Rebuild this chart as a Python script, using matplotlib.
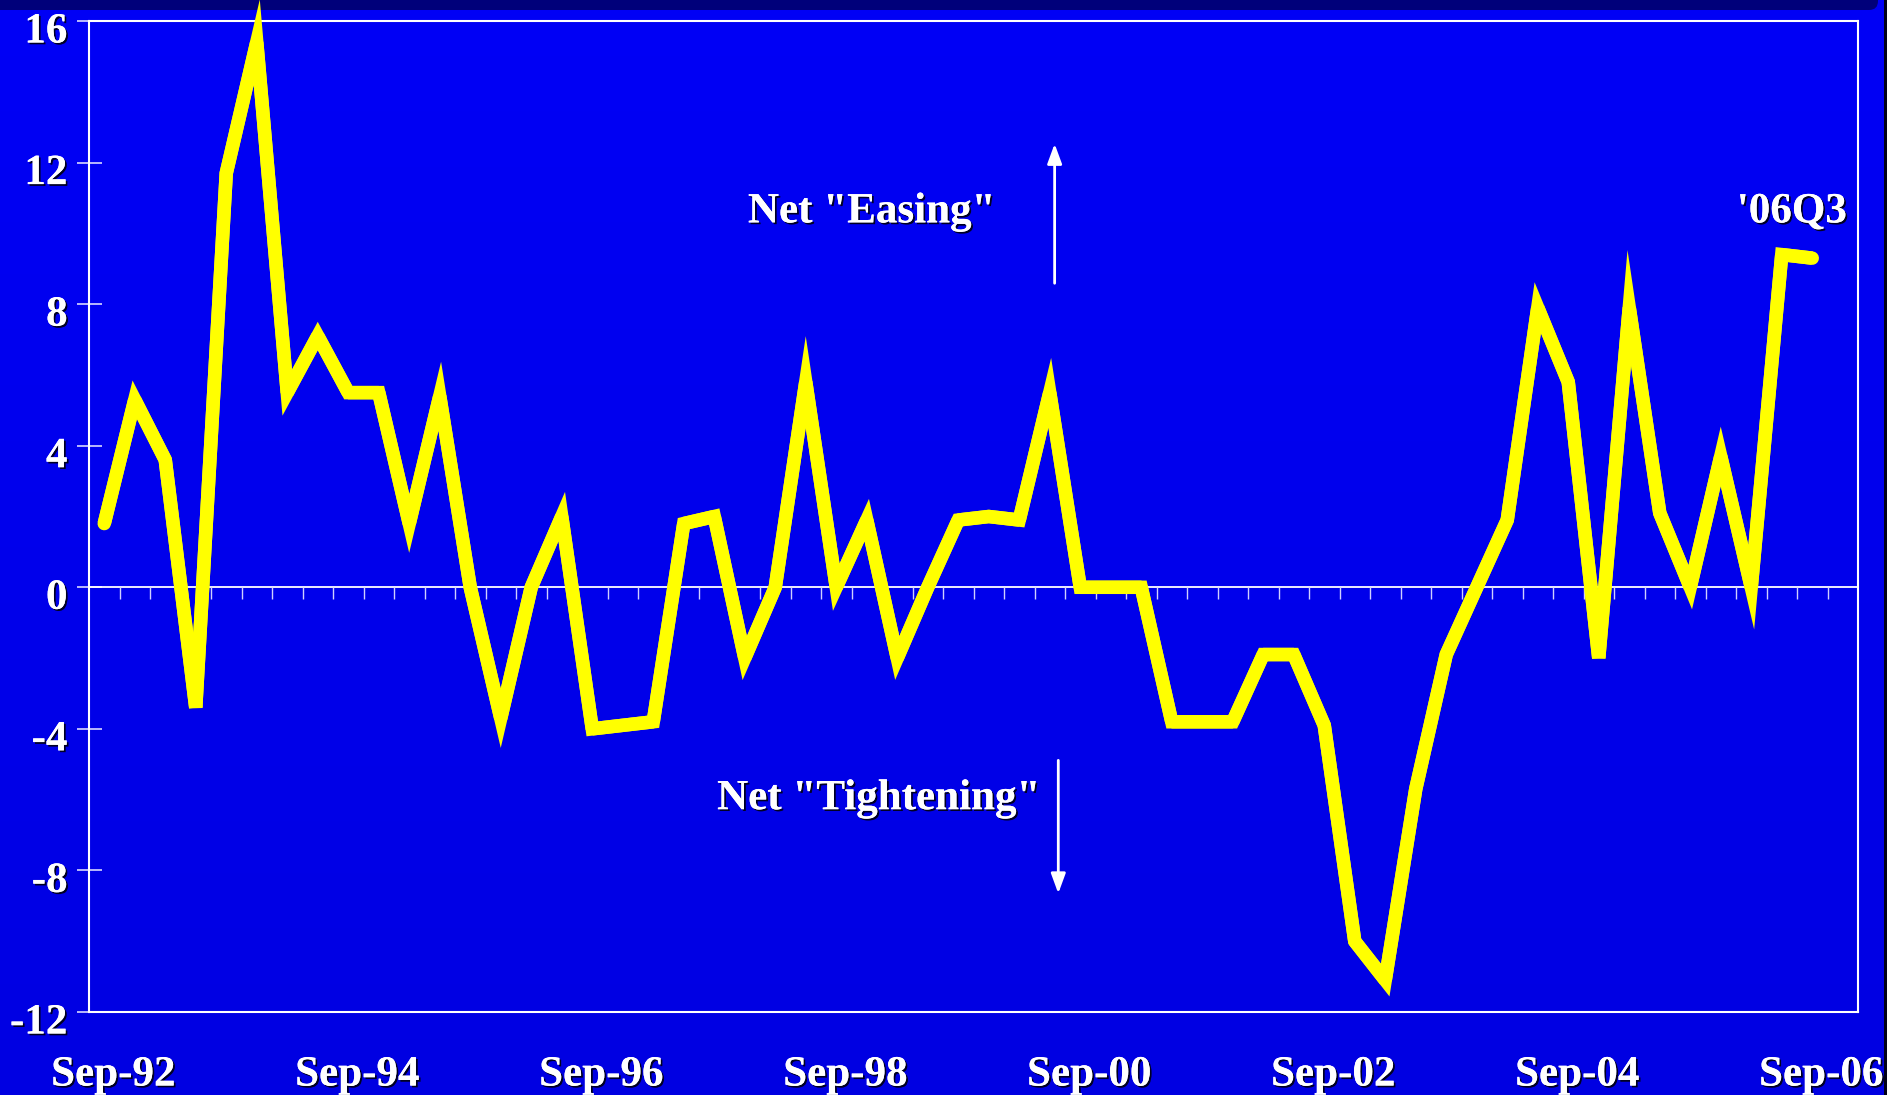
import numpy as np
import matplotlib
matplotlib.use("Agg")
from matplotlib import pyplot as plt
from matplotlib import patheffects as pe
from matplotlib.patches import FancyBboxPatch, Rectangle
from matplotlib.transforms import IdentityTransform, ScaledTranslation, blended_transform_factory

plt.rcParams['font.family'] = ['Liberation Serif', 'DejaVu Serif']
plt.rcParams['font.weight'] = 'bold'

# quarterly net easing balance, Sep-92 .. Sep-06
values = [1.8, 5.3, 3.6, -3.4, 11.7, 15.4, 5.5, 7.1, 5.5, 5.5,
          1.8, 5.4, 0.0, -3.7, 0.0, 2.0, -4.0, -3.9, -3.8, 1.8,
          2.0, -2.0, 0.0, 5.8, 0.0, 1.9, -2.0, 0.0, 1.9, 2.0,
          1.9, 5.5, 0.0, 0.0, 0.0, -3.8, -3.8, -3.8, -1.9, -1.9,
          -3.9, -10.0, -11.1, -5.7, -1.9, 0.0, 1.9, 7.9, 5.8, -2.0,
          7.9, 2.1, 0.0, 3.7, 0.0, 9.4, 9.3]
date_labels = ["Sep-92", "Sep-94", "Sep-96", "Sep-98",
               "Sep-00", "Sep-02", "Sep-04", "Sep-06"]
label_step = 8          # one label every two years
y_ticks = [-12, -8, -4, 0, 4, 8, 12, 16]
last_label = "'06Q3"

x = np.arange(len(values))
vals = np.array(values)

fig = plt.figure(figsize=(18.87, 10.95), dpi=100)
fig.patch.set_facecolor('#0000EA')

# soft vertical blue gradient behind everything
bg = fig.add_axes([0, 0, 1, 1], zorder=-10)
top_c = np.array([0, 0, 246]) / 255
bot_c = np.array([0, 0, 226]) / 255
t = np.linspace(0, 1, 256)[:, None, None]
grad = top_c * (1 - t) + bot_c * t
bg.imshow(grad, aspect='auto', extent=[0, 1, 0, 1])
bg.axis('off')

# navy strip along the top and dark edge on the right
fig.add_artist(FancyBboxPatch((-20, 1085), 1898, 40,
                              boxstyle="round,pad=0,rounding_size=9",
                              transform=IdentityTransform(),
                              facecolor='#00007A', edgecolor='none', zorder=1))
fig.add_artist(Rectangle((1884, 0), 10, 1095, transform=IdentityTransform(),
                         facecolor='#000018', edgecolor='none', zorder=1))

ax = fig.add_axes([89 / 1887, 1 - 1012 / 1095, 1769 / 1887, 991 / 1095], zorder=2)
ax.set_facecolor('none')
ax.set_xlim(-0.5, len(values) + 0.5)
ax.set_ylim(-12, 16)

for s in ax.spines.values():
    s.set_color('white')
    s.set_linewidth(1.5)

shadow = [pe.withSimplePatchShadow(offset=(1.3, -1.3), shadow_rgbFace='black', alpha=0.85),
          pe.Normal()]

# zero line with quarter ticks hanging below it
ax.axhline(0, color='white', lw=1.3, zorder=3)
ax.vlines(x + 0.5, -0.32, 0, color='#D0D0FF', lw=1.0, zorder=3)

# mitered line, but very sharp corners get a bevel (miter limit ~9)
pts = ax.transData.transform(np.column_stack([x, vals]))
bevel_at = []
for i in range(1, len(vals) - 1):
    a = pts[i - 1] - pts[i]
    b = pts[i + 1] - pts[i]
    cosang = np.dot(a, b) / (np.linalg.norm(a) * np.linalg.norm(b))
    ang = np.arccos(np.clip(cosang, -1, 1))
    if 1 / np.sin(ang / 2) > 9:
        bevel_at.append(i)

line_kw = dict(color='#FFFF00', lw=9.7, clip_on=False, zorder=6)
ax.plot(x, vals, solid_joinstyle='bevel', solid_capstyle='round', **line_kw)
cuts = [0] + bevel_at + [len(vals) - 1]
for s, e in zip(cuts[:-1], cuts[1:]):
    ax.plot(x[s:e + 1], vals[s:e + 1], solid_joinstyle='miter',
            solid_capstyle='butt', **line_kw)

ax.set_yticks(y_ticks)
ax.set_yticklabels([str(v) for v in y_ticks])
ax.tick_params(axis='y', direction='inout', length=18, width=1.2, color='#D8D8FF',
               pad=6.5, labelsize=31, labelcolor='white')
ax.tick_params(axis='x', length=0, labelbottom=False)
for lab in ax.get_yticklabels():
    lab.set_path_effects(shadow)
    lab.set_transform(lab.get_transform() + ScaledTranslation(0, -0.07, fig.dpi_scale_trans))

# date labels under the box
lab_trans = blended_transform_factory(ax.transData, ax.transAxes) + \
    ScaledTranslation(0.09, 0, fig.dpi_scale_trans)
for i, lab in enumerate(date_labels):
    ax.text(x[i * label_step], -0.0742, lab, transform=lab_trans, ha='center',
            va='baseline', fontsize=31, color='white', path_effects=shadow)

txt = dict(fontsize=31, color='white', va='baseline', path_effects=shadow, zorder=7)
ax.text(25.16, 10.31, 'Net "Easing"', ha='center', **txt)
ax.text(25.39, -6.27, 'Net "Tightening"', ha='center', **txt)
ax.text(len(values) + 0.13, 10.31, last_label, ha='right', **txt)

arrow = dict(arrowstyle='-|>,head_length=0.6,head_width=0.22', color='white',
             lw=2, mutation_scale=20, shrinkA=0, shrinkB=0)
ax.annotate('', xy=(31.16, 12.53), xytext=(31.16, 8.59), arrowprops=arrow)
ax.annotate('', xy=(31.28, -8.65), xytext=(31.28, -4.89), arrowprops=arrow)

plt.savefig('out.png', dpi=100, facecolor=fig.get_facecolor())
